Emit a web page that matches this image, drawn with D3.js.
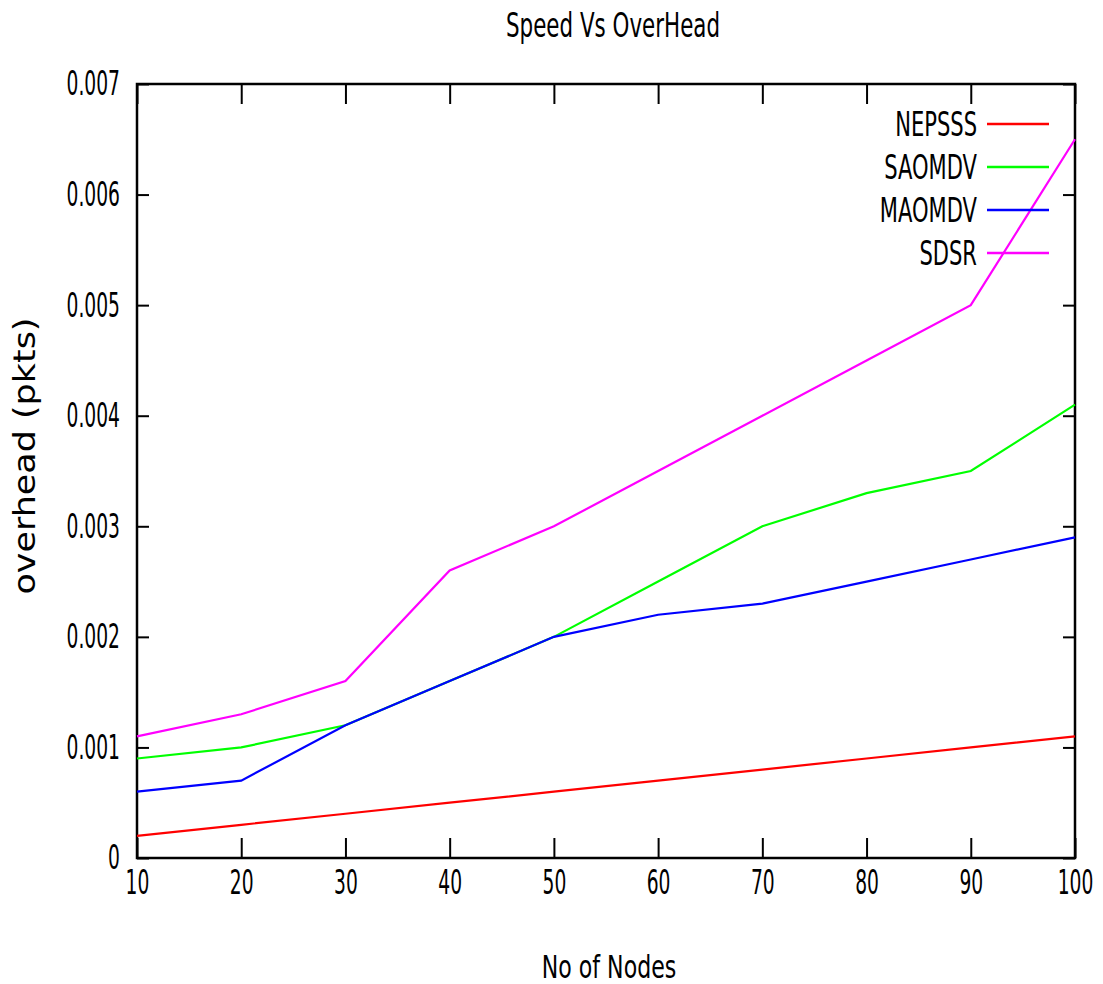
<!DOCTYPE html>
<html>
<head>
<meta charset="utf-8">
<script src="https://cdn.jsdelivr.net/npm/d3@7"></script>
<style>
  body { margin: 0; background: #fff; }
  text { font-family: "DejaVu Sans", sans-serif; fill: #000; }
</style>
</head>
<body>
<div id="app"></div>
<script>
// data
const nodes = [10, 20, 30, 40, 50, 60, 70, 80, 90, 100];
const nepsss = [0.0002, 0.0003, 0.0004, 0.0005, 0.0006, 0.0007, 0.0008, 0.0009, 0.001, 0.0011];
const saomdv = [0.0009, 0.001, 0.0012, 0.0016, 0.002, 0.0025, 0.003, 0.0033, 0.0035, 0.0041];
const maomdv = [0.0006, 0.0007, 0.0012, 0.0016, 0.002, 0.0022, 0.0023, 0.0025, 0.0027, 0.0029];
const sdsr = [0.0011, 0.0013, 0.0016, 0.0026, 0.003, 0.0035, 0.004, 0.0045, 0.005, 0.0065];
const seriesNames = ["NEPSSS", "SAOMDV", "MAOMDV", "SDSR"];
const seriesValues = [nepsss, saomdv, maomdv, sdsr];
const seriesColors = ["#ff0000", "#00ff00", "#0000ff", "#ff00ff"];
const yTicks = [0, 0.001, 0.002, 0.003, 0.004, 0.005, 0.006, 0.007];
const yTickLabels = ["0", "0.001", "0.002", "0.003", "0.004", "0.005", "0.006", "0.007"];

const width = 1103, height = 984;
const margin = { top: 84, right: 28, bottom: 126, left: 137 };

const svg = d3
  .select("#app")
  .append("svg")
  .attr("width", width)
  .attr("height", height);

const x = d3
  .scaleLinear()
  .domain([10, 100])
  .range([margin.left, width - margin.right]);

const y = d3
  .scaleLinear()
  .domain([0, 0.007])
  .range([height - margin.bottom, margin.top]);

// squeeze tick text sideways, the original font is very narrow
const sx = 0.55;
function squeeze(g) {
  g.selectAll("text").each(function () {
    const t = d3.select(this);
    const x0 = +t.attr("x") || 0;
    t.attr("x", x0 / sx).attr("transform", "scale(" + sx + ",1)");
  });
}

function styleAxis(g) {
  g.select(".domain").remove();
  g.selectAll(".tick line").attr("stroke", "#000").attr("stroke-width", 2);
  g.selectAll("text").style("font-family", '"DejaVu Sans", sans-serif').style("font-size", "34px");
}

// bottom axis
svg
  .append("g")
  .attr("transform", "translate(0," + y(0) + ")")
  .call(d3.axisBottom(x).tickValues(nodes).tickFormat(d3.format("d")).tickSizeInner(-20).tickSizeOuter(0).tickPadding(12))
  .call(styleAxis)
  .call(squeeze);

// top axis, ticks only
svg
  .append("g")
  .attr("transform", "translate(0," + y(0.007) + ")")
  .call(d3.axisTop(x).tickValues(nodes).tickFormat("").tickSizeInner(-20).tickSizeOuter(0))
  .call(styleAxis);

// left axis
svg
  .append("g")
  .attr("transform", "translate(" + x(10) + ",0)")
  .call(d3.axisLeft(y).tickValues(yTicks).tickFormat((d, i) => yTickLabels[i]).tickSizeInner(-12).tickSizeOuter(0).tickPadding(17))
  .call(styleAxis)
  .call(squeeze);

// right axis, ticks only
svg
  .append("g")
  .attr("transform", "translate(" + x(100) + ",0)")
  .call(d3.axisRight(y).tickValues(yTicks).tickFormat("").tickSizeInner(-12).tickSizeOuter(0))
  .call(styleAxis);

// frame
svg
  .append("rect")
  .attr("x", x(10))
  .attr("y", y(0.007))
  .attr("width", x(100) - x(10))
  .attr("height", y(0) - y(0.007))
  .attr("fill", "none")
  .attr("stroke", "#000")
  .attr("stroke-width", 2.5);

// lines
const line = d3
  .line()
  .x((d, i) => x(nodes[i]))
  .y((d) => y(d));

seriesValues.forEach((vals, k) => {
  svg
    .append("path")
    .datum(vals)
    .attr("d", line)
    .attr("fill", "none")
    .attr("stroke", seriesColors[k])
    .attr("stroke-width", 2.2);
});

// legend
const legend = svg.append("g").attr("transform", "translate(987,124)");
seriesNames.forEach((name, k) => {
  const row = legend.append("g").attr("transform", "translate(0," + k * 43 + ")");
  row
    .append("line")
    .attr("x1", 0)
    .attr("x2", 62)
    .attr("stroke", seriesColors[k])
    .attr("stroke-width", 2.5);
  row
    .append("text")
    .attr("x", -10 / 0.62)
    .attr("dy", "0.36em")
    .attr("text-anchor", "end")
    .attr("transform", "scale(0.62,1)")
    .style("font-size", "34px")
    .text(name);
});

// title
svg
  .append("text")
  .attr("transform", "translate(613,37) scale(0.63,1)")
  .attr("text-anchor", "middle")
  .style("font-size", "34px")
  .text("Speed Vs OverHead");

// x label
svg
  .append("text")
  .attr("transform", "translate(609,978) scale(0.69,1)")
  .attr("text-anchor", "middle")
  .style("font-size", "32px")
  .text("No of Nodes");

// y label
svg
  .append("text")
  .attr("transform", "translate(35,456) rotate(-90)")
  .attr("text-anchor", "middle")
  .attr("textLength", 277)
  .attr("lengthAdjust", "spacingAndGlyphs")
  .style("font-size", "31px")
  .text("overhead (pkts)");
</script>
</body>
</html>
